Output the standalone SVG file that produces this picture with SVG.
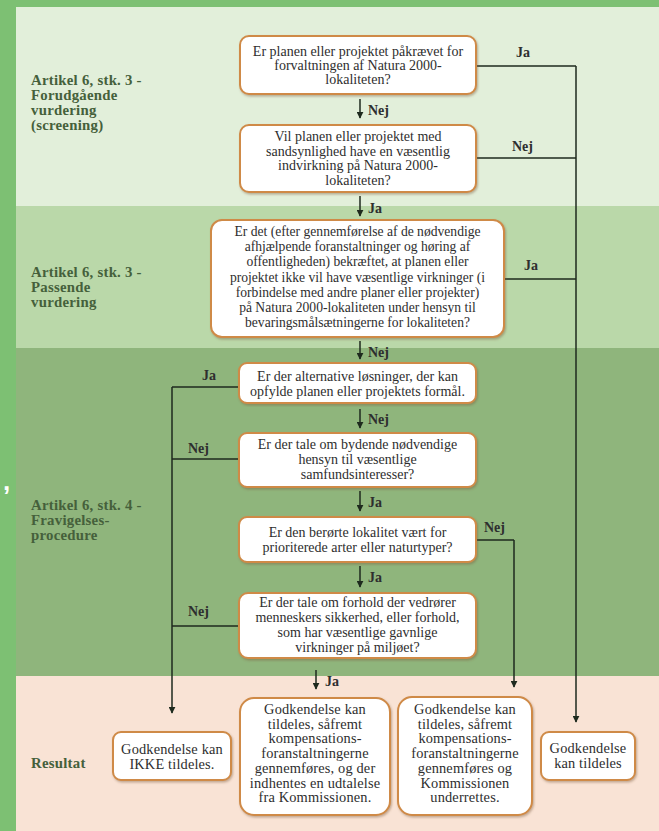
<svg xmlns="http://www.w3.org/2000/svg" width="659" height="831" viewBox="0 0 659 831">
<defs>
<marker id="ah" viewBox="0 0 10 10" refX="9" refY="5" markerWidth="7" markerHeight="7" orient="auto" markerUnits="userSpaceOnUse"><path d="M0,0 L10,5 L0,10 z" fill="#1e2a1e"/></marker>
<filter id="sh" x="-5%" y="-5%" width="110%" height="115%"><feDropShadow dx="1" dy="1.5" stdDeviation="1" flood-color="#7a5a3a" flood-opacity="0.45"/></filter>
</defs>
<style>
.box{fill:#ffffff;stroke:#cf8a47;stroke-width:2;filter:url(#sh)}
.t{font-family:"Liberation Serif","DejaVu Serif",serif;font-size:14px;fill:#2e2e2e;text-anchor:middle}
.t3{font-size:13.6px}
.tb{font-size:14.4px;letter-spacing:0.15px}
.sec{font-family:"Liberation Serif","DejaVu Serif",serif;font-size:14.8px;letter-spacing:0.25px;font-weight:bold;fill:#45603b}
.lbl{font-family:"Liberation Serif","DejaVu Serif",serif;font-size:14px;font-weight:bold;fill:#2e2e2e}
.ln{fill:none;stroke:#1e2a1e;stroke-width:1.5}
.ar{fill:none;stroke:#1e2a1e;stroke-width:1.5;marker-end:url(#ah)}
</style>
<rect x="0" y="0" width="659" height="831" fill="#7dc073"/>
<g id="bands">
<rect x="16" y="7" width="643" height="199" fill="#e2efda"/>
<rect x="16" y="206" width="643" height="142" fill="#bad8a9"/>
<rect x="16" y="348" width="643" height="328" fill="#8fb57c"/>
<rect x="16" y="676" width="643" height="155" fill="#f9e3d5"/>
</g>
<text x="3" y="490" font-family="Liberation Sans, sans-serif" font-size="26" font-weight="bold" fill="#ffffff">,</text>
<g id="section-labels">
<text class="sec" x="31" y="85">Artikel 6, stk. 3 -</text>
<text class="sec" x="31" y="100">Forudgående</text>
<text class="sec" x="31" y="115">vurdering</text>
<text class="sec" x="31" y="130">(screening)</text>
<text class="sec" x="31" y="277">Artikel 6, stk. 3 -</text>
<text class="sec" x="31" y="292">Passende</text>
<text class="sec" x="31" y="307">vurdering</text>
<text class="sec" x="31" y="510">Artikel 6, stk. 4 -</text>
<text class="sec" x="31" y="525">Fravigelses-</text>
<text class="sec" x="31" y="540">procedure</text>
<text class="sec" x="31" y="768">Resultat</text>
</g>
<g id="connectors">
<path class="ln" d="M476,66 H576"/>
<path class="ln" d="M476,158 H576"/>
<path class="ln" d="M504,279 H576"/>
<path class="ar" d="M576,66 V722"/>
<path class="ln" d="M239,387 H172"/>
<path class="ln" d="M239,459 H172"/>
<path class="ln" d="M239,626 H172"/>
<path class="ar" d="M172,387 V713"/>
<path class="ln" d="M476,540 H514"/>
<path class="ar" d="M514,540 V687"/>
<path class="ar" d="M360,99 V118"/>
<path class="ar" d="M360,196 V216"/>
<path class="ar" d="M360,341 V359"/>
<path class="ar" d="M360,409 V428"/>
<path class="ar" d="M360,491 V511"/>
<path class="ar" d="M360,566 V587"/>
<path class="ar" d="M316,670 V689"/>
<text class="lbl" x="368" y="115">Nej</text>
<text class="lbl" x="368" y="213">Ja</text>
<text class="lbl" x="368" y="357">Nej</text>
<text class="lbl" x="368" y="424">Nej</text>
<text class="lbl" x="368" y="507">Ja</text>
<text class="lbl" x="368" y="582">Ja</text>
<text class="lbl" x="325" y="686">Ja</text>
<text class="lbl" x="516" y="57">Ja</text>
<text class="lbl" x="512" y="151">Nej</text>
<text class="lbl" x="524" y="270">Ja</text>
<text class="lbl" x="202" y="380">Ja</text>
<text class="lbl" x="188" y="453">Nej</text>
<text class="lbl" x="484" y="532">Nej</text>
<text class="lbl" x="188" y="616">Nej</text>
</g>
<g id="q1">
<rect class="box" x="240" y="36" width="236" height="58" rx="9"/>
<text class="t" x="358" y="56">Er planen eller projektet påkrævet for</text>
<text class="t" x="358" y="70">forvaltningen af Natura 2000-</text>
<text class="t" x="358" y="84">lokaliteten?</text>
</g>
<g id="q2">
<rect class="box" x="240" y="125" width="236" height="67" rx="9"/>
<text class="t" x="358" y="141">Vil planen eller projektet med</text>
<text class="t" x="358" y="155.5">sandsynlighed have en væsentlig</text>
<text class="t" x="358" y="170">indvirkning på Natura 2000-</text>
<text class="t" x="358" y="184.5">lokaliteten?</text>
</g>
<g id="q3">
<rect class="box" x="211" y="220" width="293" height="117" rx="11"/>
<text class="t t3" x="357.5" y="236">Er det (efter gennemførelse af de nødvendige</text>
<text class="t t3" x="357.5" y="251">afhjælpende foranstaltninger og høring af</text>
<text class="t t3" x="357.5" y="266">offentligheden) bekræftet, at planen eller</text>
<text class="t t3" x="357.5" y="281.5">projektet ikke vil have væsentlige virkninger (i</text>
<text class="t t3" x="357.5" y="296.5">forbindelse med andre planer eller projekter)</text>
<text class="t t3" x="357.5" y="312">på Natura 2000-lokaliteten under hensyn til</text>
<text class="t t3" x="357.5" y="327">bevaringsmålsætningerne for lokaliteten?</text>
</g>
<g id="q4">
<rect class="box" x="239" y="363" width="237" height="40" rx="8"/>
<text class="t" x="357.5" y="381">Er der alternative løsninger, der kan</text>
<text class="t" x="357.5" y="396">opfylde planen eller projektets formål.</text>
</g>
<g id="q5">
<rect class="box" x="239" y="433" width="237" height="54" rx="8"/>
<text class="t" x="357.5" y="449">Er der tale om bydende nødvendige</text>
<text class="t" x="357.5" y="464">hensyn til væsentlige</text>
<text class="t" x="357.5" y="479">samfundsinteresser?</text>
</g>
<g id="q6">
<rect class="box" x="239" y="517" width="237" height="45" rx="8"/>
<text class="t" x="357.5" y="537">Er den berørte lokalitet vært for</text>
<text class="t" x="357.5" y="552">prioriterede arter eller naturtyper?</text>
</g>
<g id="q7">
<rect class="box" x="239" y="593" width="237" height="65" rx="9"/>
<text class="t" x="357.5" y="607">Er der tale om forhold der vedrører</text>
<text class="t" x="357.5" y="622">menneskers sikkerhed, eller forhold,</text>
<text class="t" x="357.5" y="637">som har væsentlige gavnlige</text>
<text class="t" x="357.5" y="652">virkninger på miljøet?</text>
</g>
<g id="r1">
<rect class="box" x="113" y="732" width="118" height="48" rx="8"/>
<text class="t tb" x="172" y="753.5">Godkendelse kan</text>
<text class="t tb" x="172" y="768.5">IKKE tildeles.</text>
</g>
<g id="r2">
<rect class="box" x="240" y="698" width="150" height="117" rx="14"/>
<text class="t tb" x="315" y="714">Godkendelse kan</text>
<text class="t tb" x="315" y="728.7">tildeles, såfremt</text>
<text class="t tb" x="315" y="743.4">kompensations-</text>
<text class="t tb" x="315" y="758.1">foranstaltningerne</text>
<text class="t tb" x="315" y="772.8">gennemføres, og der</text>
<text class="t tb" x="315" y="787.5">indhentes en udtalelse</text>
<text class="t tb" x="315" y="802.2">fra Kommissionen.</text>
</g>
<g id="r3">
<rect class="box" x="398" y="697" width="134" height="118" rx="14"/>
<text class="t tb" x="465" y="714">Godkendelse kan</text>
<text class="t tb" x="465" y="728.7">tildeles, såfremt</text>
<text class="t tb" x="465" y="743.4">kompensations-</text>
<text class="t tb" x="465" y="758.1">foranstaltningerne</text>
<text class="t tb" x="465" y="772.8">gennemføres og</text>
<text class="t tb" x="465" y="787.5">Kommissionen</text>
<text class="t tb" x="465" y="802.2">underrettes.</text>
</g>
<g id="r4">
<rect class="box" x="541" y="732" width="94" height="48" rx="8"/>
<text class="t tb" x="588" y="752.5">Godkendelse</text>
<text class="t tb" x="588" y="767.5">kan tildeles</text>
</g>
</svg>
